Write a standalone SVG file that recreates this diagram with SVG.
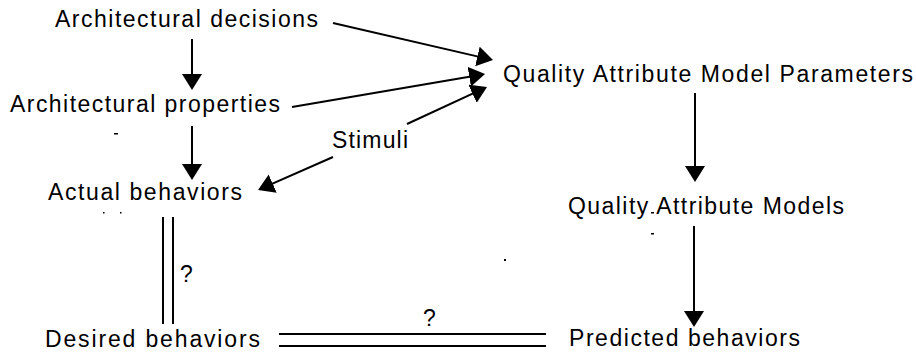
<svg xmlns="http://www.w3.org/2000/svg" width="916" height="354" viewBox="0 0 916 354">
<style>
text{font-family:"Liberation Sans",Arial,sans-serif;font-size:23px;fill:#000}
.c{stroke:#000;stroke-width:2;fill:none}
.a{marker-end:url(#ah)}
.m{fill:#000}
</style>
<defs>
<marker id="ah" viewBox="0 0 16 20" refX="12" refY="10" markerWidth="16" markerHeight="20" markerUnits="userSpaceOnUse" orient="auto">
<path d="M0,0 L16,10 L0,20 Z" fill="#000"/>
</marker>
</defs>
<rect width="916" height="354" fill="#fff"/>
<g id="n-decisions"><text x="55" y="27" textLength="263" lengthAdjust="spacing">Architectural decisions</text></g>
<g id="n-properties"><text x="10" y="112" textLength="270" lengthAdjust="spacing">Architectural properties</text></g>
<g id="n-qamp"><text x="503" y="82" textLength="410" lengthAdjust="spacing">Quality Attribute Model Parameters</text></g>
<g id="n-stimuli"><text x="332" y="148" textLength="76" lengthAdjust="spacing">Stimuli</text></g>
<g id="n-actual"><text x="48" y="200" textLength="194" lengthAdjust="spacing">Actual behaviors</text></g>
<g id="n-qam"><text x="568" y="214" textLength="276" lengthAdjust="spacing">Quality Attribute Models</text></g>
<g id="n-desired"><text x="45" y="347" textLength="215" lengthAdjust="spacing">Desired behaviors</text></g>
<g id="n-predicted"><text x="569" y="346" textLength="231" lengthAdjust="spacing">Predicted behaviors</text></g>
<g id="connectors">
<path class="c a" d="M192,39 L192,86"/>
<path class="c a" d="M192,126 L192,176"/>
<path class="c a" d="M333,23 L489.1,59.1"/>
<path class="c a" d="M292,107 L481.1,74.7"/>
<path class="c a" d="M407,124 L483.4,88.7"/>
<path class="c a" d="M333,157 L261.7,188.4"/>
<path class="c a" d="M695,93 L695,178"/>
<path class="c a" d="M694,226 L694,323"/>
<path class="c" d="M163,217 L163,324 M173,217 L173,324"/>
<path class="c" d="M279,334 L546,334 M279,346 L546,346"/>
<text x="180" y="282">?</text>
<text x="423" y="326">?</text>
</g>
<g id="marks">
<rect class="m" x="114" y="133" width="4" height="1.5"/>
<rect class="m" x="103" y="212" width="1.5" height="1.5"/>
<rect class="m" x="120" y="212" width="1.5" height="1.5"/>
<rect class="m" x="651" y="212" width="3" height="1.5"/>
<rect class="m" x="651" y="233" width="3" height="1.5"/>
<rect class="m" x="504" y="259" width="2" height="2"/>
</g>
</svg>
